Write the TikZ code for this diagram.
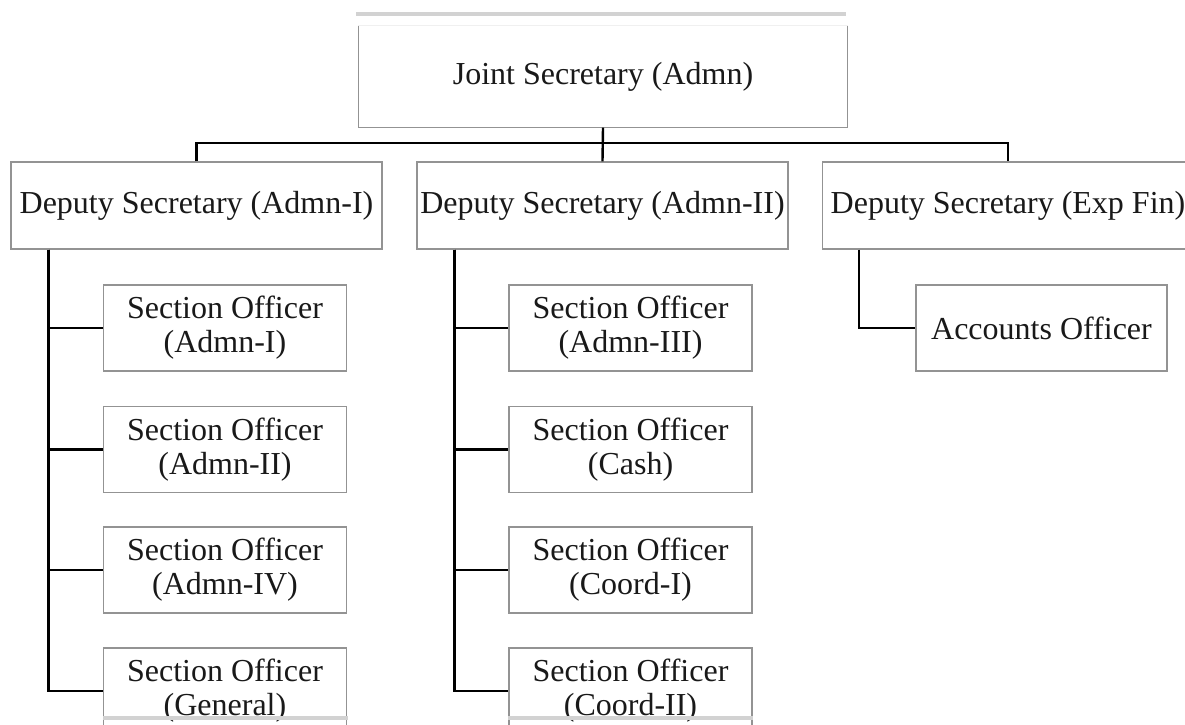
\documentclass[tikz,border=0pt]{standalone}
\usepackage{fontspec}
\setmainfont{Liberation Serif}

\begin{document}
\begin{tikzpicture}[x=0.5pt, y=-0.5pt,
    box/.style={draw=gray!85, line width=0.7pt, fill=white, text=black!90,
        font=\fontsize{16}{17}\selectfont, align=center, inner sep=0pt},
    deputy/.style={box, minimum width=185.5pt, minimum height=43.5pt},
    officer/.style={box, minimum width=121.5pt, minimum height=43pt},
    conn/.style={line width=1.2pt, black}]
    % Page
    \clip (0,0) rectangle (1185,724);
    \fill[white] (0,0) rectangle (1185,724);
    \fill[gray!35] (356,12) rectangle (846,16);

    % Top
    \node[box, draw=none, minimum width=244pt, minimum height=50.5pt] (js) at (603,76.5) {Joint Secretary (Admn)};
    \draw[gray!85, line width=0.7pt] (js.north west) -- (js.south west) -- (js.south east) -- (js.north east);
    \draw[gray!12, line width=0.7pt] (js.north west) -- (js.north east);

    % Deputies
    \node[deputy] (ds1) at (196.5,205.5) {Deputy Secretary (Admn-I)};
    \node[deputy] (ds2) at (602.5,205.5) {Deputy Secretary (Admn-II)};
    \node[deputy] (ds3) at (1008,205.5) {Deputy Secretary (Exp Fin)};

    % Section officers
    \node[officer] (s11) at (225,328) {Section Officer\\(Admn-I)};
    \node[officer] (s12) at (225,449.5) {Section Officer\\(Admn-II)};
    \node[officer] (s13) at (225,570) {Section Officer\\(Admn-IV)};
    \node[officer] (s14) at (225,691) {Section Officer\\(General)};
    \node[officer] (s21) at (630.5,328) {Section Officer\\(Admn-III)};
    \node[officer] (s22) at (630.5,449.5) {Section Officer\\(Cash)};
    \node[officer] (s23) at (630.5,570) {Section Officer\\(Coord-I)};
    \node[officer] (s24) at (630.5,691) {Section Officer\\(Coord-II)};
    \node[officer, minimum width=125.5pt] (ao) at (1041.5,328) {Accounts Officer};

    % Connectors
    \coordinate (bus) at (603,143);
    \draw[conn] (js.south) -- (ds2.north);
    \draw[conn] (ds1.north) -- (ds1.north |- bus) -- (ds3.north |- bus) -- (ds3.north);
    \foreach \i in {1,...,4} {
        \draw[conn] ([xshift=19pt]ds1.south west) |- (s1\i.west);
        \draw[conn] ([xshift=19pt]ds2.south west) |- (s2\i.west);
    }
    \draw[conn] ([xshift=18.5pt]ds3.south west) |- (ao.west);

    % Page break
    \fill[gray!35] (103,716) rectangle (348,720);
    \fill[gray!35] (508,716) rectangle (753,720);
\end{tikzpicture}
\end{document}
